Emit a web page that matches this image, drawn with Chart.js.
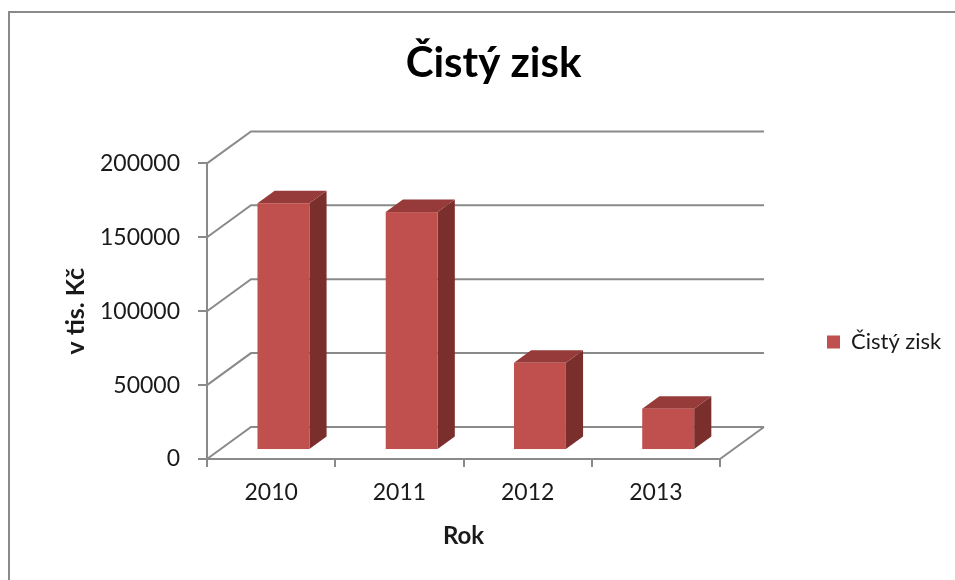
<!DOCTYPE html>
<html>
<head>
<meta charset="utf-8">
<title>Čistý zisk</title>
<script src="https://cdn.jsdelivr.net/npm/chart.js@4/dist/chart.umd.min.js"></script>
<style>
  html, body { margin: 0; padding: 0; background: #fff; }
  #wrap { width: 955px; height: 580px; }
</style>
</head>
<body>
<div id="wrap"><canvas id="profitChart" width="955" height="580"></canvas></div>
<script>
// Data
const years = ['2010', '2011', '2012', '2013'];
const netProfit = [167000, 161000, 59000, 28000];
const valueTicks = [0, 50000, 100000, 150000, 200000];
const seriesName = 'Čistý zisk';

// Colours
const barFront = '#C0504D';
const barTop = '#963B39';
const barSide = '#7B2F2D';
const gridColor = '#8a8a8a';
const frameColor = '#8a8a8a';

// Oblique depth of the 3D plot box and where the columns sit inside it
const depth = { dx: 44, dy: -32 };
const colStart = 0.28;
const colEnd = 0.67;

Chart.defaults.font.family = 'Lato, "Open Sans", sans-serif';
Chart.defaults.color = '#1a1a1a';

/**
 * Fill a closed polygon
 */
function fillPoly(ctx, pts, color) {
  ctx.beginPath();
  ctx.moveTo(pts[0][0], pts[0][1]);
  for (let i = 1; i < pts.length; i++) ctx.lineTo(pts[i][0], pts[i][1]);
  ctx.closePath();
  ctx.fillStyle = color;
  ctx.fill();
}

/**
 * Side wall, back wall and floor lines of the 3D box
 */
function drawWalls(chart) {
  const { ctx, chartArea, scales } = chart;
  const { left, right, bottom } = chartArea;
  ctx.save();
  ctx.strokeStyle = gridColor;
  ctx.lineWidth = 2;
  ctx.beginPath();
  scales.y.ticks.forEach(t => {
    const py = scales.y.getPixelForValue(t.value);
    ctx.moveTo(left, py);
    ctx.lineTo(left + depth.dx, py + depth.dy);
    ctx.lineTo(right + depth.dx, py + depth.dy);
  });
  ctx.moveTo(right, bottom);
  ctx.lineTo(right + depth.dx, bottom + depth.dy);
  ctx.stroke();
  ctx.restore();
}

/**
 * Columns as boxes, built from the bar elements laid out by Chart.js
 */
function drawColumns(chart) {
  const ctx = chart.ctx;
  const meta = chart.getDatasetMeta(0);
  const ddx = depth.dx * (colEnd - colStart);
  const ddy = depth.dy * (colEnd - colStart);
  ctx.save();
  meta.data.forEach(bar => {
    const { x, y, base, width } = bar.getProps(['x', 'y', 'base', 'width'], true);
    const x0 = x - width / 2 + depth.dx * colStart;
    const x1 = x0 + width;
    const yt = y + depth.dy * colStart;
    const yb = base + depth.dy * colStart;
    fillPoly(ctx, [[x1, yb], [x1, yt], [x1 + ddx, yt + ddy], [x1 + ddx, yb + ddy]], barSide);
    fillPoly(ctx, [[x0, yt], [x1, yt], [x1 + ddx, yt + ddy], [x0 + ddx, yt + ddy]], barTop);
    ctx.fillStyle = barFront;
    ctx.fillRect(x0, yt, width, yb - yt);
  });
  ctx.restore();
}

const plot3d = {
  id: 'plot3d',
  beforeDraw(chart) {
    const ctx = chart.ctx;
    ctx.save();
    ctx.fillStyle = '#fff';
    ctx.fillRect(0, 0, chart.width, chart.height);
    // outer frame of the chart object
    ctx.strokeStyle = frameColor;
    ctx.lineWidth = 2;
    ctx.strokeRect(9, 12, chart.width + 20, chart.height + 20);
    ctx.restore();
  },
  afterLayout(chart) {
    // park the legend at the right, centred on the plot
    const lg = chart.legend;
    const cy = 342;
    lg.left = 817;
    lg.right = lg.left + lg.width;
    lg.top = cy - 40;
    lg.bottom = cy + 40;
    lg.height = 80;
  },
  beforeDatasetsDraw(chart) {
    drawWalls(chart);
    drawColumns(chart);
    return false;
  }
};

new Chart(document.getElementById('profitChart'), {
  type: 'bar',
  data: {
    labels: years,
    datasets: [{
      label: seriesName,
      data: netProfit,
      backgroundColor: barFront,
      borderWidth: 0,
      categoryPercentage: 1,
      barPercentage: 0.405
    }]
  },
  options: {
    responsive: false,
    animation: false,
    devicePixelRatio: 1,
    layout: { padding: { left: 32, top: 0, right: 0, bottom: 0 } },
    plugins: {
      title: {
        display: true,
        text: 'Čistý zisk',
        color: '#000',
        font: { size: 42, weight: 'bold' },
        padding: { top: 38, bottom: 75 }
      },
      legend: {
        position: 'chartArea',
        labels: {
          boxWidth: 13,
          boxHeight: 13,
          padding: 10,
          font: { size: 22 }
        }
      },
      tooltip: { enabled: false }
    },
    scales: {
      x: {
        grid: {
          offset: true,
          drawOnChartArea: false,
          tickLength: 8,
          color: gridColor,
          lineWidth: 2
        },
        border: { color: gridColor, width: 2 },
        ticks: { padding: 12, font: { size: 23 } },
        title: {
          display: true,
          text: 'Rok',
          font: { size: 24, weight: 'bold' },
          padding: { top: 0, bottom: 29 }
        },
        afterFit(scale) { scale.height = 121; }
      },
      y: {
        min: 0,
        max: 200000,
        afterBuildTicks(scale) {
          scale.ticks = valueTicks.map(v => ({ value: v }));
        },
        grid: {
          drawOnChartArea: false,
          tickLength: 9,
          color: gridColor,
          lineWidth: 2
        },
        border: { color: gridColor, width: 2 },
        ticks: {
          padding: 18,
          font: { size: 23 },
          callback: v => String(v)
        },
        title: {
          display: true,
          text: 'v tis. Kč',
          font: { size: 25, weight: 'bold' },
          padding: { top: 29, bottom: 0 }
        },
        afterFit(scale) { scale.width = 175; }
      },
      // empty strip on the right that holds the legend
      legendSpace: {
        position: 'right',
        display: true,
        grid: { display: false },
        border: { display: false },
        ticks: { display: false },
        afterFit(scale) { scale.width = 235; }
      }
    }
  },
  plugins: [plot3d]
});
</script>
</body>
</html>
